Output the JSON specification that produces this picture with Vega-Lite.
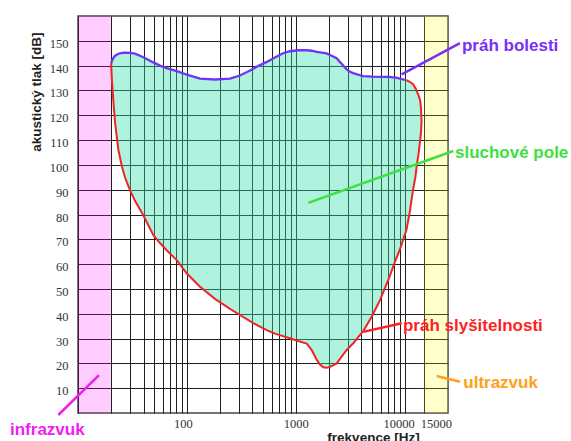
{
  "$schema": "https://vega.github.io/schema/vega-lite/v6.json",
  "width": 370,
  "height": 397,
  "autosize": {"type": "none"},
  "padding": {"left": 78, "top": 16, "right": 123, "bottom": 28},
  "background": "white",
  "config": {
    "font": "Liberation Sans",
    "view": {"stroke": "#454545", "strokeWidth": 1.5},
    "axis": {"labelOverlap": false, "labelFont": "'Liberation Serif', 'DejaVu Serif', serif"}
  },
  "datasets": {
    "bands": [
      {"band": "infra", "f0": 10, "f1": 20},
      {"band": "ultra", "f0": 15000, "f1": 25000}
    ],
    "field": [
      {"f": 20.2, "lo": 139.5, "hi": 141},
      {"f": 20.5, "lo": 134, "hi": 142},
      {"f": 21.1, "lo": 126, "hi": 143},
      {"f": 21.9, "lo": 117, "hi": 144},
      {"f": 23.5, "lo": 106, "hi": 144.8},
      {"f": 25.4, "lo": 99, "hi": 145.1},
      {"f": 27, "lo": 95, "hi": 145.2},
      {"f": 30, "lo": 89.8, "hi": 145.1},
      {"f": 33.4, "lo": 85.5, "hi": 144.8},
      {"f": 39.8, "lo": 79.7, "hi": 143.4},
      {"f": 49.2, "lo": 71.7, "hi": 141.3},
      {"f": 56.6, "lo": 68.5, "hi": 140},
      {"f": 65.3, "lo": 65.6, "hi": 139},
      {"f": 80.6, "lo": 61.6, "hi": 137.8},
      {"f": 99.6, "lo": 56.3, "hi": 136.4},
      {"f": 132, "lo": 50.9, "hi": 134.8},
      {"f": 181, "lo": 46, "hi": 134.4},
      {"f": 249, "lo": 42, "hi": 134.8},
      {"f": 307, "lo": 39.5, "hi": 136},
      {"f": 380, "lo": 37, "hi": 138},
      {"f": 450, "lo": 35.2, "hi": 139.8},
      {"f": 541, "lo": 33.4, "hi": 141.5},
      {"f": 644, "lo": 32, "hi": 143.3},
      {"f": 763, "lo": 31, "hi": 145},
      {"f": 885, "lo": 30.1, "hi": 145.8},
      {"f": 1048, "lo": 29, "hi": 146.2},
      {"f": 1260, "lo": 28, "hi": 146.2},
      {"f": 1400, "lo": 25.4, "hi": 146},
      {"f": 1556, "lo": 21.5, "hi": 145.5},
      {"f": 1668, "lo": 19.5, "hi": 145.3},
      {"f": 1789, "lo": 18.4, "hi": 145.1},
      {"f": 1922, "lo": 18.2, "hi": 144.9},
      {"f": 2061, "lo": 18.6, "hi": 144.3},
      {"f": 2375, "lo": 20, "hi": 143},
      {"f": 2546, "lo": 21.8, "hi": 141.5},
      {"f": 2935, "lo": 25.4, "hi": 138.5},
      {"f": 3146, "lo": 26.8, "hi": 137.5},
      {"f": 3373, "lo": 28.1, "hi": 137},
      {"f": 3725, "lo": 30.5, "hi": 136.4},
      {"f": 4167, "lo": 33, "hi": 135.8},
      {"f": 5008, "lo": 39, "hi": 135.6},
      {"f": 5932, "lo": 45.5, "hi": 135.5},
      {"f": 7070, "lo": 53.6, "hi": 135.5},
      {"f": 8320, "lo": 62, "hi": 135.2},
      {"f": 9054, "lo": 66, "hi": 134.8},
      {"f": 10366, "lo": 73.7, "hi": 134.1},
      {"f": 11138, "lo": 81, "hi": 133.5},
      {"f": 11918, "lo": 89.8, "hi": 132.5},
      {"f": 12540, "lo": 95, "hi": 131},
      {"f": 12969, "lo": 100.5, "hi": 129.5},
      {"f": 13415, "lo": 104.5, "hi": 128},
      {"f": 13876, "lo": 110, "hi": 126},
      {"f": 14113, "lo": 113, "hi": 123},
      {"f": 14280, "lo": 117, "hi": 118}
    ],
    "hearing": [
      {"i": 0, "f": 20.2, "db": 141},
      {"i": 1, "f": 20.2, "db": 139.5},
      {"i": 2, "f": 20.5, "db": 134},
      {"i": 3, "f": 21.1, "db": 126},
      {"i": 4, "f": 21.9, "db": 117},
      {"i": 5, "f": 23.5, "db": 106},
      {"i": 6, "f": 25.4, "db": 99},
      {"i": 7, "f": 27, "db": 95},
      {"i": 8, "f": 30, "db": 89.8},
      {"i": 9, "f": 33.4, "db": 85.5},
      {"i": 10, "f": 39.8, "db": 79.7},
      {"i": 11, "f": 49.2, "db": 71.7},
      {"i": 12, "f": 56.6, "db": 68.5},
      {"i": 13, "f": 65.3, "db": 65.6},
      {"i": 14, "f": 80.6, "db": 61.6},
      {"i": 15, "f": 99.6, "db": 56.3},
      {"i": 16, "f": 132, "db": 50.9},
      {"i": 17, "f": 181, "db": 46},
      {"i": 18, "f": 249, "db": 42},
      {"i": 19, "f": 307, "db": 39.5},
      {"i": 20, "f": 380, "db": 37},
      {"i": 21, "f": 450, "db": 35.2},
      {"i": 22, "f": 541, "db": 33.4},
      {"i": 23, "f": 644, "db": 32},
      {"i": 24, "f": 763, "db": 31},
      {"i": 25, "f": 885, "db": 30.1},
      {"i": 26, "f": 1048, "db": 29},
      {"i": 27, "f": 1260, "db": 28},
      {"i": 28, "f": 1400, "db": 25.4},
      {"i": 29, "f": 1556, "db": 21.5},
      {"i": 30, "f": 1668, "db": 19.5},
      {"i": 31, "f": 1789, "db": 18.4},
      {"i": 32, "f": 1922, "db": 18.2},
      {"i": 33, "f": 2061, "db": 18.6},
      {"i": 34, "f": 2375, "db": 20},
      {"i": 35, "f": 2546, "db": 21.8},
      {"i": 36, "f": 2935, "db": 25.4},
      {"i": 37, "f": 3146, "db": 26.8},
      {"i": 38, "f": 3373, "db": 28.1},
      {"i": 39, "f": 3725, "db": 30.5},
      {"i": 40, "f": 4167, "db": 33},
      {"i": 41, "f": 5008, "db": 39},
      {"i": 42, "f": 5932, "db": 45.5},
      {"i": 43, "f": 7070, "db": 53.6},
      {"i": 44, "f": 8320, "db": 62},
      {"i": 45, "f": 9054, "db": 66},
      {"i": 46, "f": 10366, "db": 73.7},
      {"i": 47, "f": 11138, "db": 81},
      {"i": 48, "f": 11918, "db": 89.8},
      {"i": 49, "f": 12540, "db": 95},
      {"i": 50, "f": 12969, "db": 100.5},
      {"i": 51, "f": 13415, "db": 104.5},
      {"i": 52, "f": 13876, "db": 110},
      {"i": 53, "f": 14113, "db": 113},
      {"i": 54, "f": 14280, "db": 117.5},
      {"i": 55, "f": 14113, "db": 123},
      {"i": 56, "f": 13876, "db": 126},
      {"i": 57, "f": 13415, "db": 128},
      {"i": 58, "f": 12969, "db": 129.5},
      {"i": 59, "f": 12540, "db": 131},
      {"i": 60, "f": 11918, "db": 132.5},
      {"i": 61, "f": 11138, "db": 133.5},
      {"i": 62, "f": 10366, "db": 134.1}
    ],
    "pointers": [
      {"name": "pain", "f1": 9386, "d1": 136.5, "f2": 32190, "d2": 149.1},
      {"name": "field", "f1": 1302, "d1": 84.7, "f2": 27950, "d2": 105.6},
      {"name": "hear", "f1": 4167, "d1": 32.7, "f2": 9386, "d2": 36.2},
      {"name": "ultra", "f1": 19670, "d1": 14.9, "f2": 32190, "d2": 12.6},
      {"name": "infra", "f1": 15.59, "d1": 15.3, "f2": 6.594, "d2": -0.8}
    ],
    "labels": [
      {"name": "pain", "label": "práh bolesti", "f": 33600, "db": 148.0},
      {"name": "field", "label": "sluchové pole", "f": 28960, "db": 104.9},
      {"name": "hear", "label": "práh slyšitelnosti", "f": 9647, "db": 35.2},
      {"name": "ultra", "label": "ultrazvuk", "f": 34530, "db": 11.9},
      {"name": "infra", "label": "infrazvuk", "f": 2.375, "db": -6.85}
    ]
  },
  "layer": [
    {
      "data": {"name": "bands"},
      "mark": {"type": "rect", "opacity": 0.2},
      "encoding": {
        "x": {"field": "f0", "type": "quantitative", "scale": {"type": "log"}},
        "x2": {"field": "f1"},
        "color": {"field": "band", "type": "nominal", "scale": {"domain": ["infra", "ultra"], "range": ["#ff00ff", "#ffff00"]}, "legend": null}
      }
    },
    {
      "data": {"name": "field"},
      "mark": {"type": "area", "color": "#37e1af", "opacity": 0.4},
      "encoding": {
        "x": {
          "field": "f", "type": "quantitative",
          "scale": {"type": "log", "domain": [10, 25000], "nice": false},
          "axis": {
            "title": "frekvence [Hz]",
            "values": [10, 20, 30, 40, 50, 60, 70, 80, 90, 100, 200, 300, 400, 500, 600, 700, 800, 900, 1000, 2000, 3000, 4000, 5000, 6000, 7000, 8000, 9000, 10000, 15000],
            "tickCount": 40,
            "labelExpr": "(datum.value == 100 || datum.value == 1000 || datum.value == 10000 || datum.value == 15000) ? '' + datum.value : ''",
            "labelOverlap": false,
            "labelFlush": false,
            "labelFont": "'Liberation Serif', 'DejaVu Serif', serif",
            "labelFontSize": 12.5,
            "labelColor": "#333333",
            "labelPadding": 4,
            "labelOffset": {"condition": [{"test": "datum.value == 100", "value": -4}, {"test": "datum.value == 10000", "value": -6}, {"test": "datum.value == 15000", "value": 12}], "value": 0},
            "ticks": false,
            "domain": false,
            "grid": true,
            "gridColor": "#1f1f1f",
            "gridWidth": 1,
            "gridOpacity": 1,
            "titleFont": "Liberation Sans",
            "titleFontWeight": "bold",
            "titleFontSize": 13.5,
            "titleColor": "#222222",
            "titleX": 295,
            "titleY": 17,
            "titleBaseline": "top",
            "titleAlign": "center"
          }
        },
        "y": {
          "field": "lo", "type": "quantitative",
          "scale": {"domain": [0, 160], "nice": false, "zero": false},
          "axis": {
            "title": "akustický tlak [dB]",
            "values": [10, 20, 30, 40, 50, 60, 70, 80, 90, 100, 110, 120, 130, 140, 150],
            "tickCount": 40,
            "labelOverlap": false,
            "labelFlush": false,
            "labelFont": "'Liberation Serif', 'DejaVu Serif', serif",
            "labelFontSize": 12.5,
            "labelColor": "#333333",
            "labelPadding": 10,
            "labelOffset": 2.5,
            "ticks": false,
            "domain": false,
            "grid": true,
            "gridColor": "#1f1f1f",
            "gridWidth": 1,
            "gridOpacity": 1,
            "titleFont": "Liberation Sans",
            "titleFontWeight": "bold",
            "titleFontSize": 13.5,
            "titleColor": "#222222",
            "titleAngle": -90,
            "titleAlign": "right",
            "titleBaseline": "middle",
            "titleX": -42,
            "titleY": 16
          }
        },
        "y2": {"field": "hi"}
      }
    },
    {
      "data": {"name": "field"},
      "transform": [{"filter": "datum.f <= 10366"}],
      "mark": {"type": "line", "color": "#6f35f5", "strokeWidth": 2.3},
      "encoding": {
        "x": {"field": "f", "type": "quantitative"},
        "y": {"field": "hi", "type": "quantitative"}
      }
    },
    {
      "data": {"name": "hearing"},
      "mark": {"type": "line", "color": "#f02424", "strokeWidth": 2},
      "encoding": {
        "x": {"field": "f", "type": "quantitative"},
        "y": {"field": "db", "type": "quantitative"},
        "order": {"field": "i", "type": "quantitative"}
      }
    },
    {
      "data": {"name": "pointers"},
      "mark": {"type": "rule", "strokeWidth": 2.5},
      "encoding": {
        "x": {"field": "f1", "type": "quantitative"},
        "x2": {"field": "f2"},
        "y": {"field": "d1", "type": "quantitative"},
        "y2": {"field": "d2"},
        "color": {"field": "name", "type": "nominal", "scale": {"domain": ["pain", "field", "hear", "ultra", "infra"], "range": ["#7a2ff5", "#3ee03e", "#ff1f1f", "#ff9f1a", "#f21df2"]}, "legend": null}
      }
    },
    {
      "data": {"name": "labels"},
      "mark": {"type": "text", "align": "left", "baseline": "middle", "fontWeight": "bold", "fontSize": 17, "font": "Liberation Sans"},
      "encoding": {
        "x": {"field": "f", "type": "quantitative"},
        "y": {"field": "db", "type": "quantitative"},
        "text": {"field": "label"},
        "color": {"field": "name", "type": "nominal", "scale": {"domain": ["pain", "field", "hear", "ultra", "infra"], "range": ["#7a2ff5", "#3ee03e", "#ff1f1f", "#ff9f1a", "#f21df2"]}, "legend": null}
      }
    }
  ],
  "resolve": {"scale": {"color": "independent"}}
}
